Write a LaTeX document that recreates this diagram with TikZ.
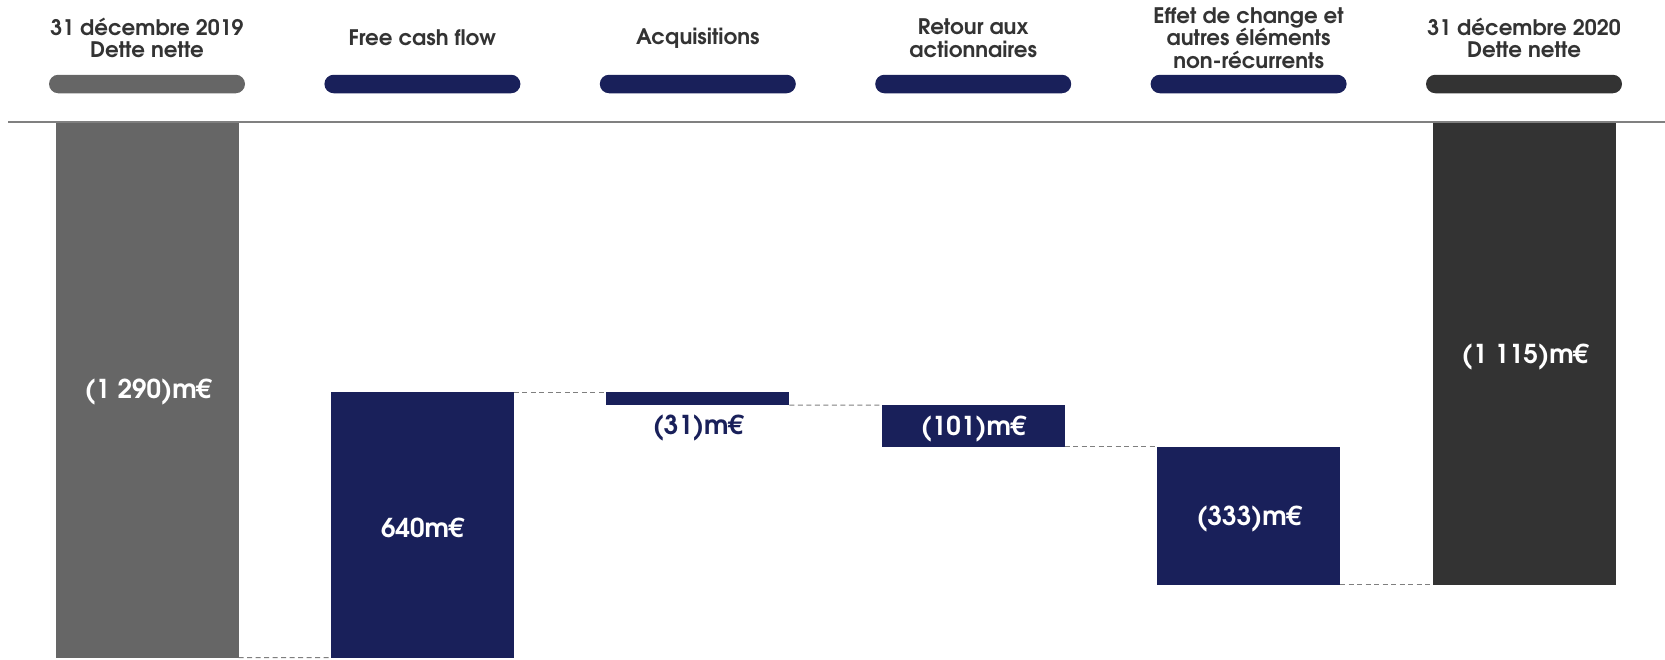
\documentclass[tikz,border=0pt]{standalone}
\usepackage{fontspec}
\setmainfont{TeX Gyre Adventor}
\definecolor{navy}{HTML}{19205A}
\definecolor{midgray}{HTML}{666666}
\definecolor{darkgrey}{HTML}{333333}
\definecolor{txtgray}{HTML}{333333}
\definecolor{linegray}{HTML}{808080}
\definecolor{dashgray}{HTML}{7F7F7F}
\tikzset{
  barbox/.style={draw=none, inner sep=0pt, outer sep=0pt, minimum width=183pt, anchor=north},
  pill/.style={draw=none, inner sep=0pt, outer sep=0pt, minimum width=196pt, minimum height=18.5pt, rounded corners=9.25pt},
  head/.style={align=center, inner sep=0pt, text=txtgray, font=\bfseries\fontsize{21.4}{22.5}\selectfont},
  val/.style={inner sep=0pt, font=\bfseries\fontsize{26}{30}\selectfont, text=white},
  dashline/.style={draw=dashgray, dash pattern=on 5pt off 3.5pt, line width=1pt},
}
\begin{document}
\begin{tikzpicture}[x=1pt,y=-1pt]
\useasboundingbox (0,0) rectangle (1665,659);
% headers
\node[head] (h1) at (147,38) {31 décembre 2019\\Dette nette};
\node[head] (h2) at (422.4,38) {Free cash flow};
\node[head] (h3) at (697.8,38) {Acquisitions};
\node[head] (h4) at (973.2,38) {Retour aux\\actionnaires};
\node[head] (h5) at (1248.6,38) {Effet de change et\\autres éléments\\non-récurrents};
\node[head] (h6) at (1524,38) {31 décembre 2020\\Dette nette};
% pills
\node[pill, fill=midgray] (p1) at (147,84) {};
\node[pill, fill=navy] (p2) at (422.4,84) {};
\node[pill, fill=navy] (p3) at (697.8,84) {};
\node[pill, fill=navy] (p4) at (973.2,84) {};
\node[pill, fill=navy] (p5) at (1248.6,84) {};
\node[pill, fill=darkgrey] (p6) at (1524,84) {};
% separator line
\coordinate (hl) at (8,122);
\coordinate (hr) at (1665,122);
\draw[linegray, line width=1.3pt] (hl) -- (hr);
% bars
\node[barbox, fill=midgray, minimum height=534.5pt] (b1) at (147,123) {};
\node[barbox, fill=navy, minimum height=265.2pt] (b2) at (422.4,392.3) {};
\node[barbox, fill=navy, minimum height=12.8pt] (b3) at (697.8,392.3) {};
\node[barbox, fill=navy, minimum height=41.8pt] (b4) at (973.2,405.1) {};
\node[barbox, fill=navy, minimum height=138pt] (b5) at (1248.6,446.9) {};
\node[barbox, fill=darkgrey, minimum height=461.9pt] (b6) at (1524,123) {};
% connectors
\draw[dashline] (b1.south east) -- (b2.south west);
\draw[dashline] (b2.north east) -- (b3.north west);
\draw[dashline] (b3.south east) -- (b4.north west);
\draw[dashline] (b4.south east) -- (b5.north west);
\draw[dashline] (b5.south east) -- (b6.south west);
% values
\node[val] (v1) at (148,392) {(1 290)m€};
\node[val] (v2) at (422.4,528) {640m€};
\node[val, text=navy] (v3) at (698,428) {(31)m€};
\node[val] (v4) at (973.2,428.5) {(101)m€};
\node[val] (v5) at (1249,519) {(333)m€};
\node[val] (v6) at (1525,357) {(1 115)m€};
\end{tikzpicture}
\end{document}
